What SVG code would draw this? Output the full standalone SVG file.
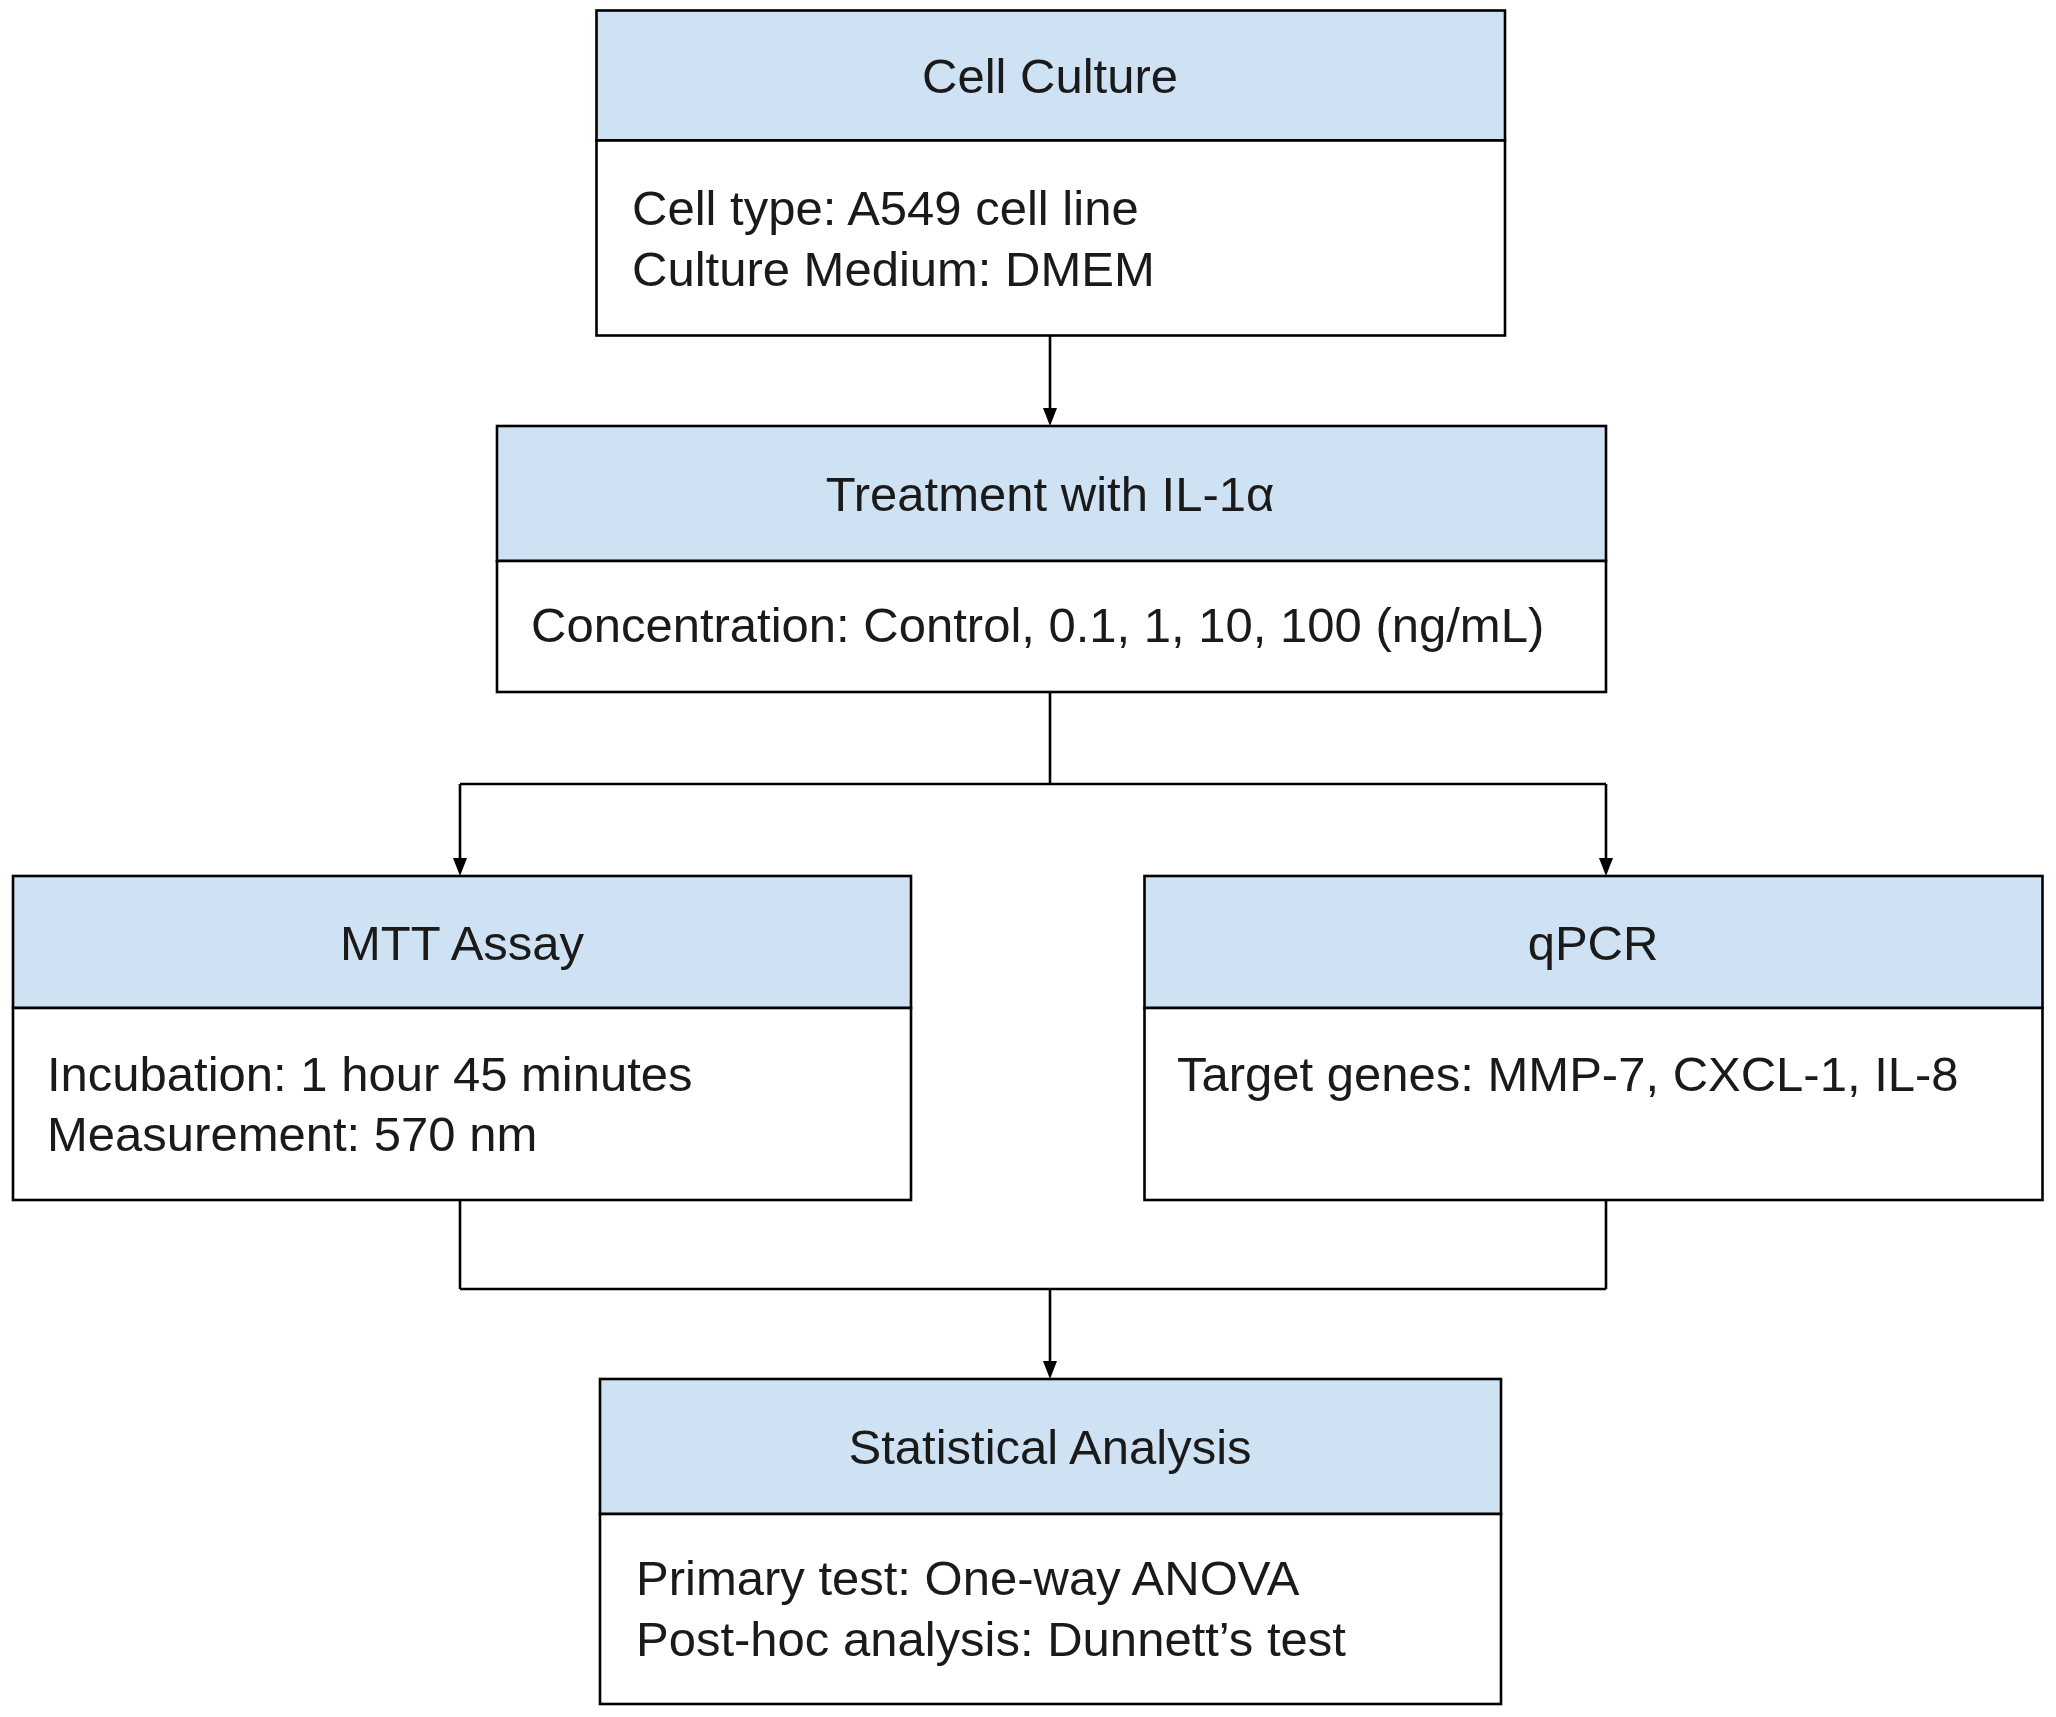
<svg xmlns="http://www.w3.org/2000/svg" width="2056" height="1717" viewBox="0 0 2056 1717">
<style>
.h{fill:#cfe2f3;stroke:#000;stroke-width:2.6}
.b{fill:#fff;stroke:#000;stroke-width:2.6}
text{font-family:"Liberation Sans",Arial,sans-serif;font-size:49px;fill:#1a1a1a}
.c{text-anchor:middle}
.l{fill:none;stroke:#000;stroke-width:2.6}
</style>
<defs><marker id="a" markerWidth="10" markerHeight="12" refX="5" refY="11" orient="auto-start-reverse" markerUnits="userSpaceOnUse" viewBox="0 0 10 12"><path d="M0,0 L10,0 L5,12 Z" fill="#000" transform="rotate(0)"/></marker></defs>
<rect width="2056" height="1717" fill="#fff"/>
<g id="edges">
<path class="l" d="M1050,336 V412"/><path d="M1043,408 L1057,408 L1050,426 Z"/>
<path class="l" d="M1050,692 V784 M460,784 H1606 M460,784 V862 M1606,784 V862"/>
<path d="M453,858 L467,858 L460,876 Z"/><path d="M1599,858 L1613,858 L1606,876 Z"/>
<path class="l" d="M460,1200 V1289 M1606,1200 V1289 M460,1289 H1606 M1050,1289 V1365"/>
<path d="M1043,1361 L1057,1361 L1050,1379 Z"/>
</g>
<g id="cell-culture">
<rect class="h" x="596.5" y="10.5" width="908.5" height="130"/>
<rect class="b" x="596.5" y="140.5" width="908.5" height="195"/>
<text class="c" x="1050" y="93">Cell Culture</text>
<text x="632" y="225">Cell type: A549 cell line</text>
<text x="632" y="286">Culture Medium: DMEM</text>
</g>
<g id="treatment">
<rect class="h" x="497" y="426" width="1109" height="135"/>
<rect class="b" x="497" y="561" width="1109" height="131"/>
<text class="c" x="1050" y="511">Treatment with IL-1α</text>
<text x="531" y="642">Concentration: Control, 0.1, 1, 10, 100 (ng/mL)</text>
</g>
<g id="mtt">
<rect class="h" x="13" y="876" width="898" height="132"/>
<rect class="b" x="13" y="1008" width="898" height="192"/>
<text class="c" x="462" y="960">MTT Assay</text>
<text x="47" y="1091">Incubation: 1 hour 45 minutes</text>
<text x="47" y="1151">Measurement: 570 nm</text>
</g>
<g id="qpcr">
<rect class="h" x="1144.5" y="876" width="898" height="132"/>
<rect class="b" x="1144.5" y="1008" width="898" height="192"/>
<text class="c" x="1593" y="960">qPCR</text>
<text x="1177" y="1091">Target genes: MMP-7, CXCL-1, IL-8</text>
</g>
<g id="stats">
<rect class="h" x="600" y="1379" width="901" height="135"/>
<rect class="b" x="600" y="1514" width="901" height="190"/>
<text class="c" x="1050" y="1464">Statistical Analysis</text>
<text x="636" y="1595">Primary test: One-way ANOVA</text>
<text x="636" y="1656">Post-hoc analysis: Dunnett’s test</text>
</g>
</svg>
